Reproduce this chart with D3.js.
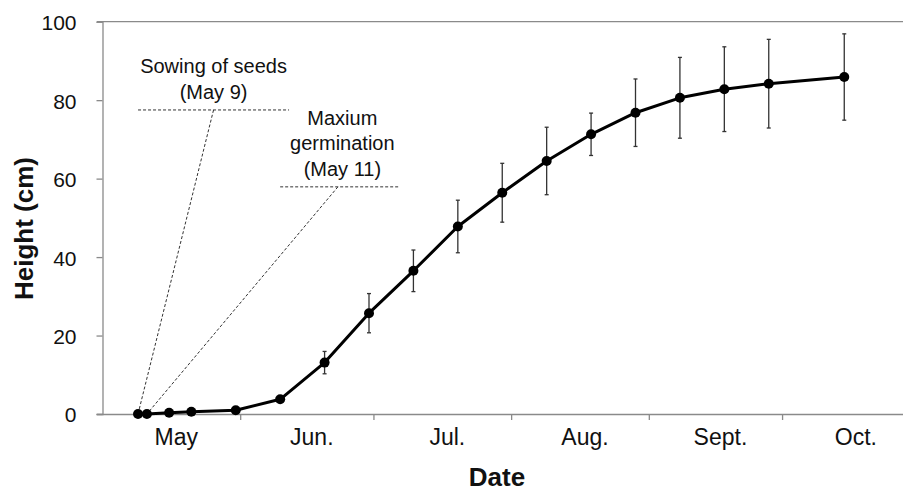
<!DOCTYPE html>
<html>
<head>
<meta charset="utf-8">
<script src="https://cdn.jsdelivr.net/npm/d3@7"></script>
<style>
  html, body { margin: 0; padding: 0; background: #fff; }
  svg { display: block; font-family: "Liberation Sans", Arial, sans-serif; }
</style>
</head>
<body>
<svg id="chart" width="903" height="492"></svg>
<script>
// ---- Data ----
const sampleDates = ["2013-05-09","2013-05-11","2013-05-16","2013-05-21","2013-05-31",
  "2013-06-10","2013-06-20","2013-06-30","2013-07-10","2013-07-20","2013-07-30",
  "2013-08-09","2013-08-19","2013-08-29","2013-09-08","2013-09-18","2013-09-28","2013-10-15"];
const heights = [0, 0, 0.33, 0.59, 0.94, 3.75, 13.1, 25.7, 36.5, 47.8, 56.4,
  64.5, 71.3, 76.8, 80.6, 82.8, 84.2, 85.9];
const errors = [0, 0, 0, 0, 0.2, 0.6, 2.85, 5.0, 5.3, 6.7, 7.5,
  8.6, 5.4, 8.6, 10.3, 10.8, 11.3, 11.0];
const monthStarts = ["2013-05-01","2013-06-01","2013-07-01","2013-08-01","2013-09-01","2013-10-01"];
const monthLabels = ["May","Jun.","Jul.","Aug.","Sept.","Oct."];
const yTicks = [0, 20, 40, 60, 80, 100];
const annotations = [
  { lines: ["Sowing of seeds", "(May 9)"], textDate: "2013-05-26", level: 77.5,
    lineFrom: "2013-05-09", lineTo: "2013-06-12", anchorDate: "2013-05-26", target: 0 },
  { lines: ["Maxium", "germination", "(May 11)"], textDate: "2013-06-24", level: 57.9,
    lineFrom: "2013-06-10", lineTo: "2013-07-07", anchorDate: "2013-06-23", target: 1 }
];

const parse = d3.utcParse("%Y-%m-%d");
const data = sampleDates.map((d, i) => ({ date: parse(d), h: heights[i], e: errors[i] }));

const svg = d3.select("#chart");
const x = d3.scaleUtc().domain([parse("2013-05-01"), parse("2013-10-28")]).range([102.5, 902]);
const y = d3.scaleLinear().domain([0, 100]).range([414, 21.7]);
const axisColor = "#8a8a8a";

// top border line
svg.append("line")
  .attr("x1", 97).attr("x2", 903)
  .attr("y1", y(100)).attr("y2", y(100))
  .attr("stroke", axisColor).attr("stroke-width", 1.3);

// Y axis
const yAxis = svg.append("g").attr("transform", `translate(${x.range()[0]},0)`)
  .call(d3.axisLeft(y).tickValues(yTicks).tickSize(6).tickPadding(20).tickFormat(d3.format("d")));
yAxis.select(".domain").attr("stroke", axisColor).attr("stroke-width", 1.3);
yAxis.selectAll(".tick line").attr("stroke", axisColor).attr("stroke-width", 1.3);
yAxis.selectAll(".tick text").attr("font-size", 21).attr("fill", "#111")
  .attr("font-family", "Liberation Sans, Arial, sans-serif").attr("dy", "0.38em");

// X axis
const xAxis = svg.append("g").attr("transform", `translate(0,${y(0)})`)
  .call(d3.axisBottom(x).tickValues(monthStarts.slice(1).map(parse)).tickSize(6).tickFormat(""));
xAxis.select(".domain").attr("stroke", axisColor).attr("stroke-width", 1.3)
  .attr("d", `M97,0.5H903`);
xAxis.selectAll(".tick line").attr("stroke", axisColor).attr("stroke-width", 1.3);

// Month labels centred between month ticks
const monthEnds = monthStarts.slice(1).map(parse).concat([d3.utcMonth.offset(parse(monthStarts[monthStarts.length-1]), 1)]);
svg.append("g").selectAll("text").data(monthLabels).join("text")
  .attr("x", (d, i) => (x(parse(monthStarts[i])) + x(monthEnds[i])) / 2 + 5)
  .attr("y", 445)
  .attr("text-anchor", "middle")
  .attr("font-size", 23).attr("fill", "#111")
  .text(d => d);

// Axis titles
svg.append("text").attr("x", 497).attr("y", 486).attr("text-anchor", "middle")
  .attr("font-size", 26).attr("font-weight", "bold").attr("fill", "#111").text("Date");
svg.append("text").attr("transform", "translate(33,228.5) rotate(-90)").attr("text-anchor", "middle")
  .attr("font-size", 26).attr("font-weight", "bold").attr("fill", "#111").text("Height (cm)");

// Annotations
const ann = svg.append("g");
annotations.forEach(a => {
  const tgt = data[a.target];
  ann.append("line")
    .attr("x1", x(parse(a.lineFrom))).attr("x2", x(parse(a.lineTo)))
    .attr("y1", y(a.level)).attr("y2", y(a.level))
    .attr("stroke", "#333").attr("stroke-width", 1).attr("stroke-dasharray", "3,2");
  ann.append("line")
    .attr("x1", x(parse(a.anchorDate))).attr("y1", y(a.level))
    .attr("x2", x(tgt.date)).attr("y2", y(tgt.h))
    .attr("stroke", "#333").attr("stroke-width", 1).attr("stroke-dasharray", "3,2");
  const n = a.lines.length;
  a.lines.forEach((t, i) => {
    ann.append("text")
      .attr("x", x(parse(a.textDate)))
      .attr("y", y(a.level) - 11 - (n - 1 - i) * 25.5)
      .attr("text-anchor", "middle").attr("font-size", 20).attr("fill", "#111")
      .text(t);
  });
});

// Error bars
const eb = svg.append("g").attr("stroke", "#333").attr("stroke-width", 1.3);
data.filter(d => d.e > 0).forEach(d => {
  const cx = x(d.date);
  eb.append("line").attr("x1", cx).attr("x2", cx).attr("y1", y(d.h - d.e)).attr("y2", y(d.h + d.e));
  eb.append("line").attr("x1", cx - 2).attr("x2", cx + 2).attr("y1", y(d.h - d.e)).attr("y2", y(d.h - d.e));
  eb.append("line").attr("x1", cx - 2).attr("x2", cx + 2).attr("y1", y(d.h + d.e)).attr("y2", y(d.h + d.e));
});

// Line
svg.append("path").datum(data)
  .attr("fill", "none").attr("stroke", "#000").attr("stroke-width", 3)
  .attr("stroke-linejoin", "round")
  .attr("d", d3.line().x(d => x(d.date)).y(d => y(d.h)));

// Markers
svg.append("g").selectAll("circle").data(data).join("circle")
  .attr("cx", d => x(d.date)).attr("cy", d => y(d.h)).attr("r", 5)
  .attr("fill", "#000");
</script>
</body>
</html>
